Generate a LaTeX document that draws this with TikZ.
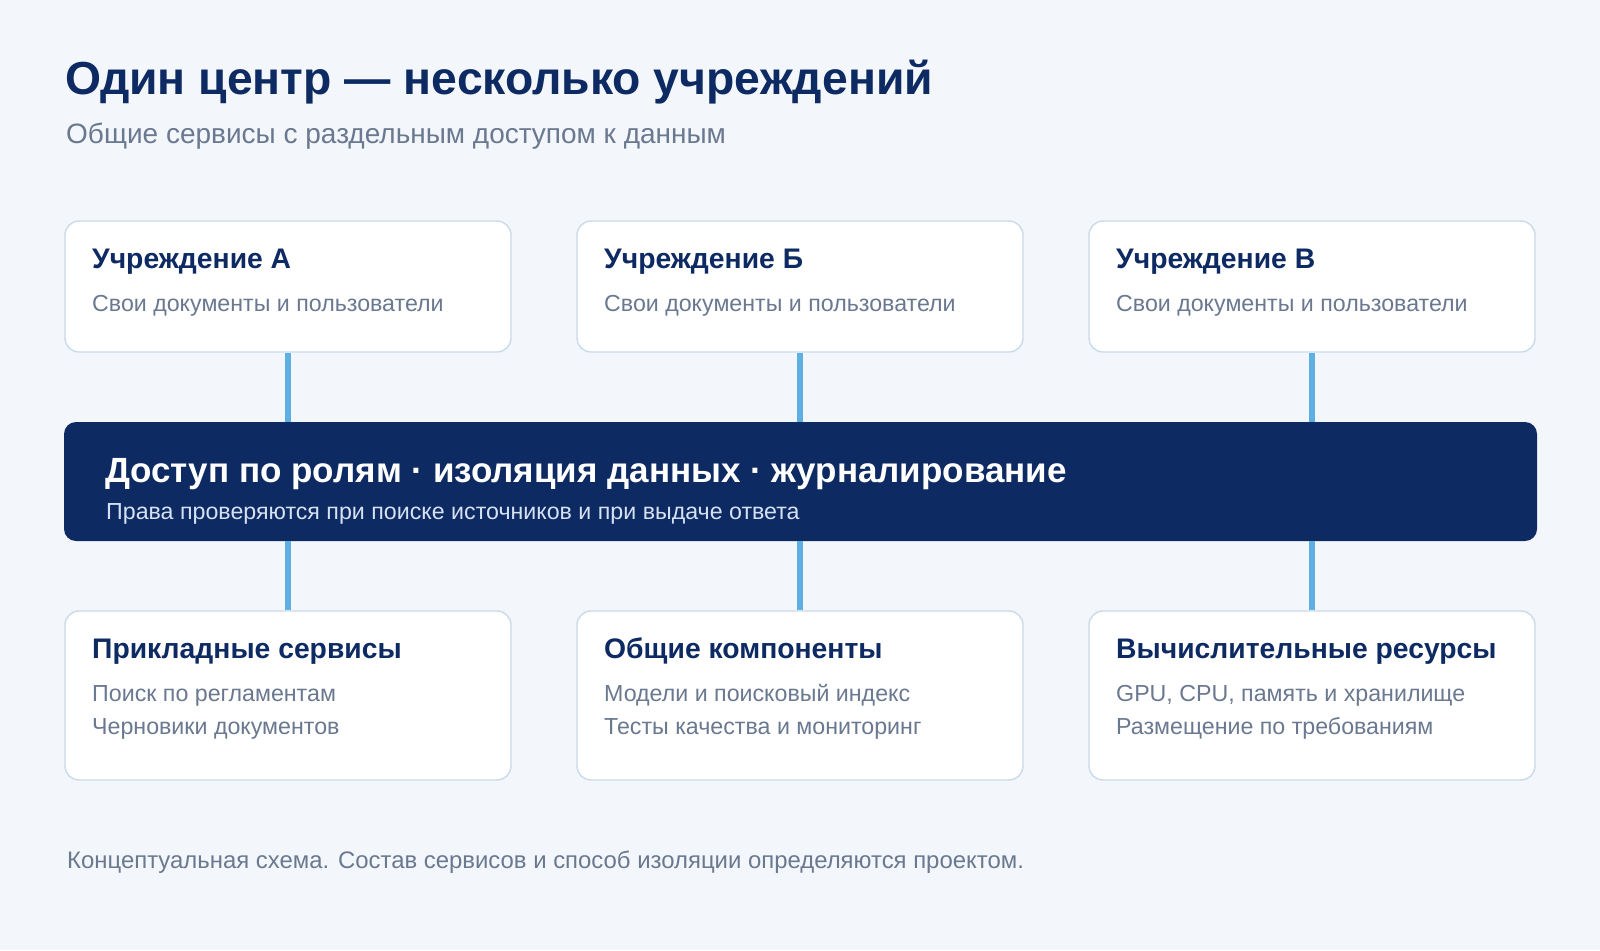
\documentclass[tikz,border=0pt]{standalone}
\usepackage{fontspec}
\setmainfont{Liberation Sans}
\usetikzlibrary{positioning}
\definecolor{pagebg}{HTML}{F3F7FB}
\definecolor{navy}{HTML}{0E2A63}
\definecolor{greytext}{HTML}{6A7890}
\definecolor{boxline}{HTML}{C9DAEA}
\definecolor{linkblue}{HTML}{5DB0E2}
\definecolor{bandsub}{HTML}{D6E2F3}
\tikzset{
  card/.style={draw=boxline, line width=1.4pt, fill=white, rounded corners=14pt,
    minimum width=446pt, minimum height=131pt, inner sep=0pt},
  lowcard/.style={card, minimum height=169pt},
  cardtitle/.style={anchor=base west, inner sep=0pt, text=navy, font=\fontsize{28.3}{32}\selectfont\bfseries},
  cardtext/.style={anchor=base west, inner sep=0pt, text=greytext, font=\fontsize{23.2}{27}\selectfont},
  link/.style={draw=linkblue, line width=5.5pt}
}
\begin{document}
\begin{tikzpicture}[x=1pt,y=-1pt]
\useasboundingbox[fill=pagebg] (0,0) rectangle (1600,950);
% heading
\node[anchor=base west, inner sep=0pt, text=navy, font=\fontsize{46.3}{52}\selectfont\bfseries] (title) at (65,94) {Один центр — несколько учреждений};
\node[anchor=base west, inner sep=0pt, text=greytext, font=\fontsize{28}{32}\selectfont] (subtitle) at (66,143) {Общие сервисы с раздельным доступом к данным};
% institutions
\node[card] (instA) at (288,286.5) {};
\node[card] (instB) at (800,286.5) {};
\node[card] (instC) at (1312,286.5) {};
\node[cardtitle] (instAt) at (92,268) {Учреждение А};
\node[cardtitle] (instBt) at (604,268) {Учреждение Б};
\node[cardtitle] (instCt) at (1116,268) {Учреждение В};
\node[cardtext] (instAs) at (92,311) {Свои документы и пользователи};
\node[cardtext] (instBs) at (604,311) {Свои документы и пользователи};
\node[cardtext] (instCs) at (1116,311) {Свои документы и пользователи};
% access band
\node[fill=navy, rounded corners=12pt, minimum width=1473pt, minimum height=119pt, inner sep=0pt] (band) at (800.5,481.5) {};
\node[anchor=base west, inner sep=0pt, text=white, font=\fontsize{35}{40}\selectfont\bfseries] (bandt) at (105,482) {Доступ по ролям · изоляция данных · журналирование};
\node[anchor=base west, inner sep=0pt, text=bandsub, font=\fontsize{23.2}{27}\selectfont] (bands) at (106,519) {Права проверяются при поиске источников и при выдаче ответа};
% shared layers
\node[lowcard] (apps) at (288,695.5) {};
\node[lowcard] (core) at (800,695.5) {};
\node[lowcard] (comp) at (1312,695.5) {};
\node[cardtitle] (appst) at (92,658) {Прикладные сервисы};
\node[cardtitle] (coret) at (604,658) {Общие компоненты};
\node[cardtitle] (compt) at (1116,658) {Вычислительные ресурсы};
\node[cardtext] (appsa) at (92,701) {Поиск по регламентам};
\node[cardtext] (appsb) at (92,734) {Черновики документов};
\node[cardtext] (corea) at (604,701) {Модели и поисковый индекс};
\node[cardtext] (coreb) at (604,734) {Тесты качества и мониторинг};
\node[cardtext] (compa) at (1116,701) {GPU, CPU, память и хранилище};
\node[cardtext] (compb) at (1116,734) {Размещение по требованиям};
% connectors
\draw[link] (instA.south) -- (instA.south |- band.north);
\draw[link] (instB.south) -- (instB.south |- band.north);
\draw[link] (instC.south) -- (instC.south |- band.north);
\draw[link] (apps.north |- band.south) -- (apps.north);
\draw[link] (core.north |- band.south) -- (core.north);
\draw[link] (comp.north |- band.south) -- (comp.north);
% note
\node[anchor=base west, inner sep=0pt, text=greytext, font=\fontsize{23.9}{28}\selectfont] (note) at (67,868) {Концептуальная схема. Состав сервисов и способ изоляции определяются проектом.};
\end{tikzpicture}
\end{document}
